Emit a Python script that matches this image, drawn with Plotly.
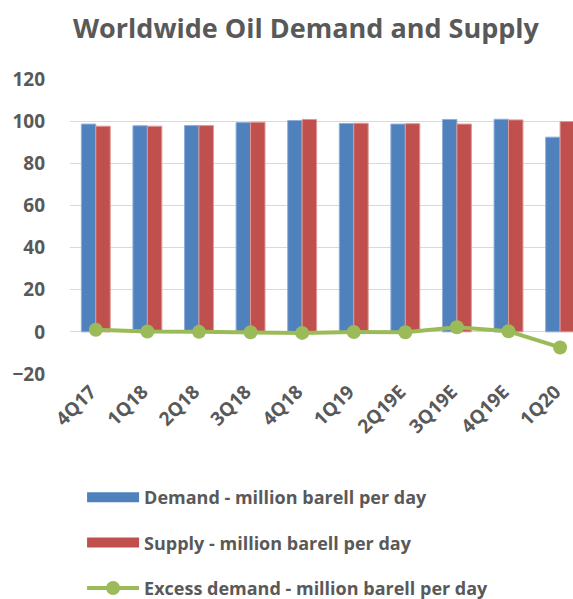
import plotly.graph_objects as go

quarters = ["4Q17", "1Q18", "2Q18", "3Q18", "4Q18", "1Q19", "2Q19E", "3Q19E", "4Q19E", "1Q20"]
demand = [98.6, 97.8, 97.9, 99.3, 100.3, 98.9, 98.6, 100.8, 100.9, 92.4]
supply = [97.6, 97.6, 97.9, 99.5, 100.8, 99.0, 98.8, 98.6, 100.6, 99.8]
excess = [1.0, 0.2, 0.0, -0.2, -0.5, -0.1, -0.2, 2.2, 0.3, -7.4]

y_ticks = [-20, 0, 20, 40, 60, 80, 100, 120]

names = ["Demand - million barell per day", "Supply - million barell per day",
         "Excess demand - million barell per day"]
BLUE, RED, GREEN = "#4F81BD", "#C0504D", "#9BBB59"
GREY = "#595959"
FONT = "Open Sans"

fig = go.Figure()
fig.add_trace(go.Bar(x=quarters, y=demand, name=names[0],
                     marker=dict(color=BLUE, line=dict(color="#8FAEDB", width=1)), showlegend=False))
fig.add_trace(go.Bar(x=quarters, y=supply, name=names[1],
                     marker=dict(color=RED, line=dict(color="#DE9896", width=1)), showlegend=False))
fig.add_trace(go.Scatter(x=quarters, y=excess, name=names[2], mode="lines+markers",
                         line=dict(color=GREEN, width=4), marker=dict(color=GREEN, size=14), showlegend=False))

# legend entries
fig.add_trace(go.Scatter(x=[None], y=[None], name=names[0], mode="lines",
                         line=dict(color=BLUE, width=14), legendgroup="a"))
fig.add_trace(go.Scatter(x=[None], y=[None], name=names[1], mode="lines",
                         line=dict(color=RED, width=14), legendgroup="b"))
fig.add_trace(go.Scatter(x=[None], y=[None], name=names[2], mode="lines+markers",
                         line=dict(color=GREEN, width=4), marker=dict(color=GREEN, size=14), legendgroup="c"))

fig.update_layout(
    width=573, height=599,
    margin=dict(l=70, r=0, t=79, b=225),
    paper_bgcolor="white", plot_bgcolor="white",
    title=dict(text="Worldwide Oil Demand and Supply", x=0.534, xanchor="center", xref="container",
               y=1 - 29 / 599, yanchor="middle",
               font=dict(family=FONT, size=27, color=GREY, weight="bold")),
    bargap=0.44, bargroupgap=0,
    barmode="group",
    font=dict(family=FONT, color=GREY),
    xaxis=dict(type="category", range=[-0.5, 9.25], tickangle=-45, showgrid=False, showline=False,
               tickfont=dict(family=FONT, size=19, color=GREY, weight="bold"), ticks="",
               ticklabelstandoff=2, ticklabelshift=-5, automargin=False),
    yaxis=dict(range=[-20, 120], tickvals=y_ticks, showgrid=True, gridcolor="#D9D9D9", gridwidth=1,
               zeroline=True, zerolinecolor="#D9D9D9", zerolinewidth=1, ticks="", ticklabelstandoff=24,
               tickfont=dict(family=FONT, size=19, color=GREY, weight="bold"), automargin=False),
    legend=dict(orientation="v", x=0.024, xanchor="left", yref="container", y=1 - 479 / 599,
                yanchor="top", itemwidth=52,
                tracegroupgap=19, font=dict(family=FONT, size=18, color=GREY, weight="bold")),
)

fig.write_html("out.html", config={"displayModeBar": False},
               post_script="document.body.style.margin='0';document.documentElement.style.overflow='hidden';")
